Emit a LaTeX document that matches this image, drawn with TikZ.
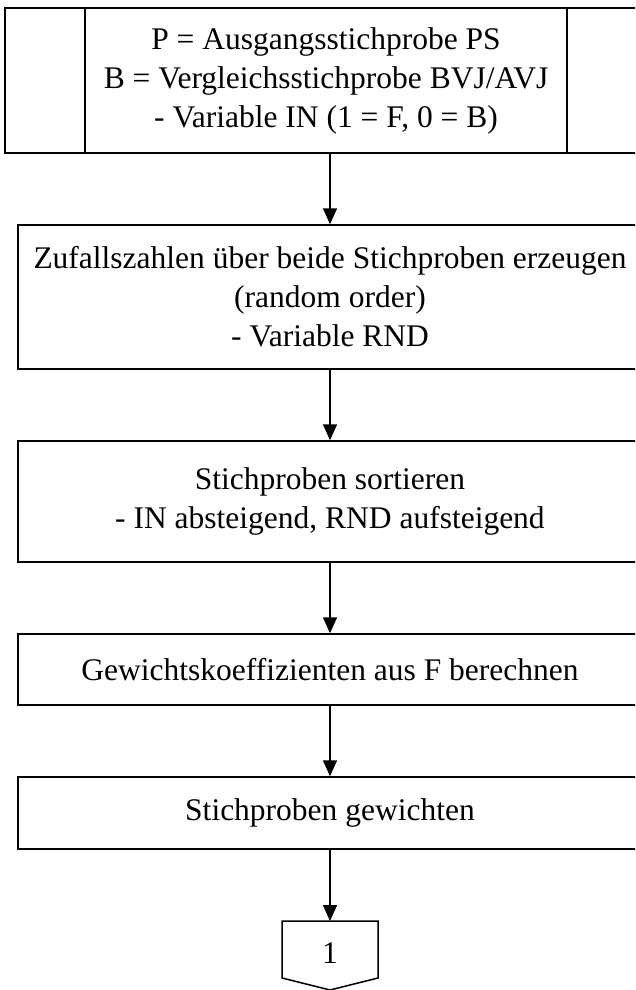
\documentclass[tikz,border=0pt]{standalone}
\usepackage{fontspec}
\setmainfont{Liberation Serif}
\usetikzlibrary{arrows.meta}
\begin{document}
\begin{tikzpicture}[x=1pt,y=-1pt,
  box/.style={draw, line width=1.5pt, inner sep=0pt, align=center, font=\fontsize{31.5}{39}\selectfont},
  arr/.style={line width=1.5pt, -{Triangle[width=14pt,length=16pt]}},
  txt/.style={font=\fontsize{31.5}{39}\selectfont}]
\useasboundingbox (0,0) rectangle (635,990);
\clip (0,0) rectangle (635,990);
\node[box, minimum width=642pt, minimum height=145pt] (p) at (326,80.5) {P = Ausgangsstichprobe PS\\B = Vergleichsstichprobe BVJ/AVJ\\- Variable IN (1 = F, 0 = B)};
\draw[line width=1.5pt] (85,0 |- p.north) -- (85,0 |- p.south);
\draw[line width=1.5pt] (567,0 |- p.north) -- (567,0 |- p.south);
\node[box, minimum width=624pt, minimum height=144pt] (b2) at (330,297) {Zufallszahlen über beide Stichproben erzeugen\\(random order)\\- Variable RND};
\node[box, minimum width=624pt, minimum height=121pt] (b3) at (330,501.5) {Stichproben sortieren\\- IN absteigend, RND aufsteigend};
\node[box, minimum width=624pt, minimum height=71pt] (b4) at (330,669.5) {Gewichtskoeffizienten aus F berechnen};
\node[box, minimum width=624pt, minimum height=72pt] (b5) at (330,813) {Stichproben gewichten};
\coordinate (c) at (330,921);
\draw[line width=1.5pt] (282,921) -- (378,921) -- (378,978) -- (330,990) -- (282,978) -- cycle;
\node[txt] (cn) at (330,953) {1};
\draw[arr] (b2.north |- p.south) -- (b2.north);
\draw[arr] (b2.south) -- (b3.north);
\draw[arr] (b3.south) -- (b4.north);
\draw[arr] (b4.south) -- (b5.north);
\draw[arr] (b5.south) -- (c);
\end{tikzpicture}
\end{document}
